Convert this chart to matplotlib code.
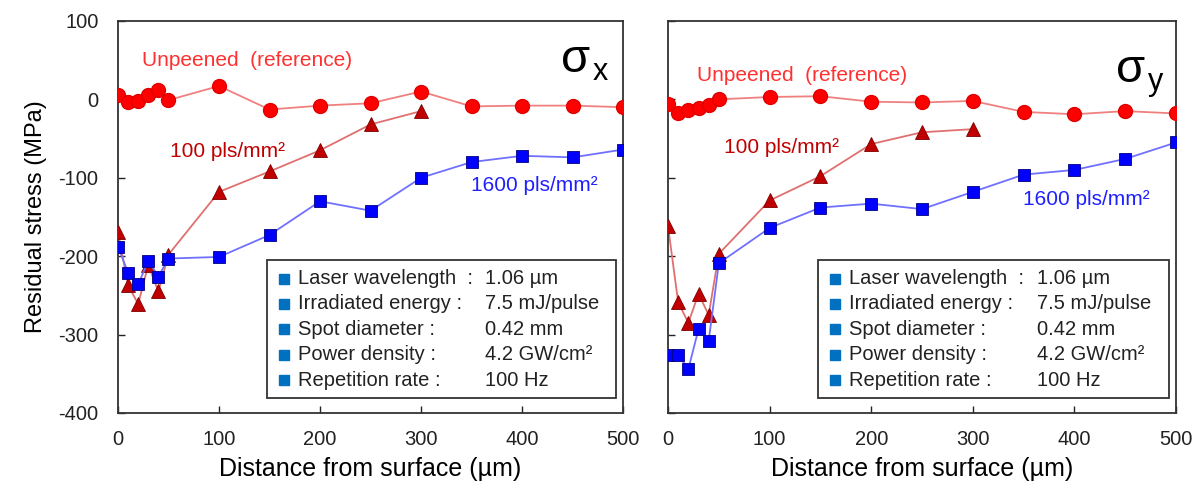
import numpy as np
import matplotlib
matplotlib.use("Agg")
from matplotlib import pyplot as plt
from matplotlib.patches import Rectangle

plt.rcParams['font.family'] = ['Liberation Sans', 'DejaVu Sans']
plt.rcParams['axes.unicode_minus'] = False

# depth positions (µm)
x_ref = [0, 10, 20, 30, 40, 50, 100, 150, 200, 250, 300, 350, 400, 450, 500]
x_100 = [0, 10, 20, 30, 40, 50, 100, 150, 200, 250, 300]
x_1600 = [0, 10, 20, 30, 40, 50, 100, 150, 200, 250, 300, 350, 400, 450, 500]

# sigma x
sx_ref = [6, -3, -2, 5, 12, -1, 17, -13, -8, -5, 10, -9, -8, -8, -10]
sx_100 = [-169, -237, -261, -211, -245, -198, -118, -92, -65, -32, -15]
sx_1600 = [-188, -221, -236, -206, -226, -203, -201, -173, -130, -142, -100, -80, -72, -74, -64]

# sigma y
sy_ref = [-6, -17, -14, -11, -7, 0, 3, 4, -3, -4, -2, -16, -19, -15, -18]
sy_100 = [-162, -259, -285, -248, -275, -197, -129, -98, -57, -42, -38]
sy_1600 = [-326, -326, -344, -293, -308, -209, -164, -138, -133, -140, -118, -96, -90, -76, -55]

cond_names = ["Laser wavelength  :", "Irradiated energy :", "Spot diameter :",
              "Power density :", "Repetition rate :"]
cond_values = ["1.06 µm", "7.5 mJ/pulse", "0.42 mm", "4.2 GW/cm²", "100 Hz"]

fig = plt.figure(figsize=(12, 4.87), dpi=100)
ax1 = fig.add_axes([0.0983, 0.152, 0.421, 0.805])
ax2 = fig.add_axes([0.5567, 0.152, 0.4233, 0.805])


def draw(ax, ref, s100, s1600, sub, lbl_pos, sig_pos):
    ax.plot(x_ref, ref, '-', color='#f08080', lw=1.3, zorder=2)
    ax.plot(x_ref, ref, 'o', color='#ff0000', mec='#e00000', ms=10, zorder=3)
    ax.plot(x_100, s100, '-', color='#e07070', lw=1.3, zorder=2)
    ax.plot(x_100, s100, '^', color='#c00000', mec='#7a0000', mew=0.6, ms=10, zorder=3)
    ax.plot(x_1600, s1600, '-', color='#7070ff', lw=1.3, zorder=4)
    ax.plot(x_1600, s1600, 's', color='#0000ff', mec='#000080', mew=0.6, ms=9, zorder=5)

    ax.set_xlim(0, 500)
    ax.set_ylim(-400, 100)
    ax.set_xticks([0, 100, 200, 300, 400, 500])
    ax.set_yticks([-400, -300, -200, -100, 0, 100])
    ax.tick_params(direction='in', length=5, width=1, labelsize=14.5, colors='#222222')
    ax.tick_params(axis='x', pad=12)
    ax.tick_params(axis='y', pad=14)
    for sp in ax.spines.values():
        sp.set_linewidth(1.3)
        sp.set_color('#333333')
    ax.set_xlabel("Distance from surface (µm)", fontsize=18, labelpad=6)

    (ux, uy), (hx, hy), (lx, ly) = lbl_pos
    ax.text(ux, uy, "Unpeened  (reference)", color='#ff3030', fontsize=15,
            ha='center', va='center')
    ax.text(hx, hy, "100 pls/mm²", color='#c00000', fontsize=15,
            ha='center', va='center')
    ax.text(lx, ly, "1600 pls/mm²", color='#2020ff', fontsize=15,
            ha='center', va='center')

    sx, sy = sig_pos
    ax.text(sx, sy, "σ", transform=ax.transAxes, fontsize=34,
            ha='center', va='center')
    ax.text(sx + 0.05, sy - 0.03, sub, transform=ax.transAxes, fontsize=22,
            ha='center', va='center')

    # conditions box
    ax.add_patch(Rectangle((0.296, 0.037), 0.69, 0.352, transform=ax.transAxes,
                           fill=False, ec='#333333', lw=1.3, zorder=6))
    rows = [0.343, 0.278, 0.213, 0.148, 0.083]
    for yy, nm, val in zip(rows, cond_names, cond_values):
        ax.plot([0.329], [yy], 's', transform=ax.transAxes, color='#0070c0',
                ms=6.5, clip_on=False, zorder=7)
        ax.text(0.356, yy, nm, transform=ax.transAxes, fontsize=14.5,
                ha='left', va='center', color='#222222', zorder=7)
        ax.text(0.727, yy, val, transform=ax.transAxes, fontsize=14.5,
                ha='left', va='center', color='#222222', zorder=7)


draw(ax1, sx_ref, sx_100, sx_1600, 'x',
     [(128, 50), (108, -67), (412, -110)], (0.905, 0.9))
draw(ax2, sy_ref, sy_100, sy_1600, 'y',
     [(132, 31), (112, -62), (412, -128)], (0.91, 0.875))

ax1.set_ylabel("Residual stress (MPa)", fontsize=17, labelpad=8)
ax2.set_yticklabels([])

fig.savefig("out.png", dpi=100)
